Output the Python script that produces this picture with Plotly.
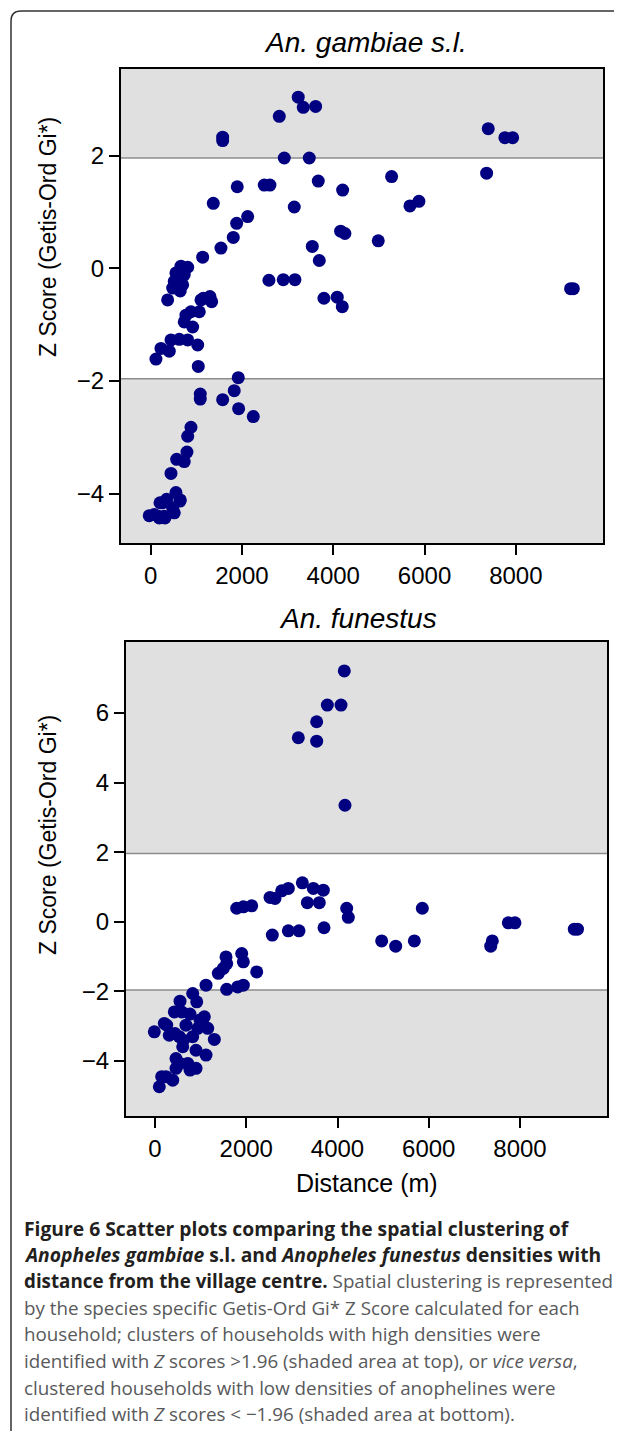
import plotly.graph_objects as go

# the page body adds an 8px margin, so the figure is drawn 8px smaller and
# every pixel position below is given in reference pixels minus that offset
OFF = 8
W, H = 622 - OFF, 1431 - OFF

# An. gambiae s.l. : distance (m) and Getis-Ord Gi* Z score
gam_dist = [3233, 3343, 3614, 2818, 1577, 1577, 7396, 7761, 7930, 2927, 3475, 7360,
            5279, 3672, 4206, 1897, 2489, 2613, 1372, 3146, 5680, 5877, 2125, 1884,
            1810, 1540, 1139, 4162, 4256, 4986, 3541, 3694, 9200, 9260, 2591, 2905,
            3161, 3796, 4088, 4198,
            664, 811, 554, 736, 517, 701, 482, 648, 372, 1153, 1299, 1336, 1102,
            883, 773, 1065, 736, 920,
            445, 627, 811, 1030, 226, 407, 116, 1043,
            1919, 1831, 1087, 1087, 1577, 1927, 2248, 883, 811, 795, 570, 736, 445,
            554, 648, 263, 482, 79, 298, 517, 188, -31, 204, 350, 642, 313, 167]
gam_z = [3.04, 2.86, 2.875, 2.70, 2.33, 2.27, 2.48, 2.32, 2.32, 1.96, 1.96, 1.69,
         1.63, 1.55, 1.39, 1.45, 1.48, 1.48, 1.155, 1.09, 1.11, 1.19, 0.92, 0.80,
         0.55, 0.36, 0.20, 0.66, 0.62, 0.49, 0.39, 0.14, -0.36, -0.36, -0.21, -0.20,
         -0.20, -0.53, -0.51, -0.68,
         0.04, 0.02, -0.08, -0.11, -0.23, -0.29, -0.35, -0.40, -0.56, -0.53, -0.50, -0.59, -0.56,
         -0.77, -0.83, -0.77, -0.95, -1.04,
         -1.27, -1.26, -1.27, -1.36, -1.42, -1.47, -1.61, -1.74,
         -1.94, -2.17, -2.23, -2.32, -2.33, -2.49, -2.63, -2.82, -2.98, -3.26, -3.39, -3.43, -3.64,
         -3.98, -4.11, -4.16, -4.25, -4.37, -4.40, -4.34, -4.43, -4.39, -4.16, -4.10, -4.13, -4.43, -4.40]

# An. funestus
fun_dist = [4149, 3777, 4077, 3543, 3141, 3543, 4164,
            3229, 3470, 3689, 2777, 2922, 2521, 2630, 1790, 1936, 2119, 3339, 3601,
            4201, 4237, 5859, 7744, 7890, 9190, 9260, 2571, 2922, 3156, 3704, 4968,
            5275, 5684, 7393, 7358,
            1556, 1571, 1900, 1936, 2229, 1388, 1497, 1118, 1571, 1812, 1936, 826,
            914, 548, 767,
            423, 1081, 204, -15, 679, 936, 1155, 313, 533, 826, 1300, 607, 899, 460,
            1118, 717, 899, 460, 241, 388, 94, 256, 585, 986, 620, 438, 548, 767, 146]
fun_z = [7.21, 6.23, 6.23, 5.75, 5.29, 5.19, 3.35,
         1.12, 0.96, 0.91, 0.89, 0.96, 0.70, 0.67, 0.39, 0.43, 0.46, 0.55, 0.55,
         0.39, 0.13, 0.39, -0.03, -0.03, -0.21, -0.21, -0.38, -0.26, -0.26, -0.17, -0.55,
         -0.70, -0.55, -0.55, -0.70,
         -1.01, -1.20, -0.91, -1.15, -1.44, -1.48, -1.34, -1.82, -1.94, -1.87, -1.82, -2.06,
         -2.30, -2.28, -2.65,
         -2.59, -2.73, -2.92, -3.16, -2.97, -3.06, -3.06, -3.26, -3.30, -3.30, -3.38, -3.59, -3.69, -3.93,
         -3.83, -4.07, -4.21, -4.21, -4.45, -4.55, -4.74, -2.97, -2.59, -2.82, -3.40, -3.21, -4.07, -4.26, -4.45]

x_ticks = [0, 2000, 4000, 6000, 8000]
threshold = 1.96

grey = "<span style='color:#58595b'>%s</span>"
caption = [
    "<b>Figure 6 Scatter plots comparing the spatial clustering of</b>",
    "<b><i>Anopheles gambiae</i> s.l. and <i>Anopheles funestus</i> densities with</b>",
    "<b>distance from the village centre.</b> " + grey % "Spatial clustering is represented",
    grey % "by the species specific Getis-Ord Gi* Z Score calculated for each",
    grey % "household; clusters of households with high densities were",
    grey % "identified with <i>Z</i> scores &gt;1.96 (shaded area at top), or <i>vice versa</i>,",
    grey % "clustered households with low densities of anophelines were",
    grey % "identified with <i>Z</i> scores &lt; \u22121.96 (shaded area at bottom).",
]


def px_x(p):
    return (p - OFF) / W


def px_y(p):
    return 1 - (p - OFF) / H


fig = go.Figure()
fig.add_trace(go.Scatter(x=gam_dist, y=gam_z, mode="markers", xaxis="x", yaxis="y",
                         marker=dict(size=13, color="#000080"), showlegend=False))
fig.add_trace(go.Scatter(x=fun_dist, y=fun_z, mode="markers", xaxis="x2", yaxis="y2",
                         marker=dict(size=13, color="#000080"), showlegend=False))

axfont = dict(family="Liberation Sans, Arial", size=24, color="black")
common = dict(showline=True, mirror=True, linecolor="black", linewidth=2, ticks="outside",
              ticklen=10, tickwidth=1.5, tickcolor="black", showgrid=False, zeroline=False,
              tickfont=axfont)

fig.update_layout(
    width=W, height=H, margin=dict(l=0, r=0, t=0, b=0),
    paper_bgcolor="white", plot_bgcolor="white",
    xaxis=dict(domain=[px_x(121), px_x(603)], range=[-650, 9910], tickvals=x_ticks, anchor="y", **common),
    yaxis=dict(domain=[px_y(543), px_y(69)], range=[-4.875, 3.54], tickvals=[-4, -2, 0, 2], anchor="x", **common),
    xaxis2=dict(domain=[px_x(126), px_x(607)], range=[-636, 9907], tickvals=x_ticks, anchor="y2", **common),
    yaxis2=dict(domain=[px_y(1116), px_y(641.7)], range=[-5.58, 8.05], tickvals=[-4, -2, 0, 2, 4, 6], anchor="x2", **common),
)

# shaded significance bands and threshold lines
for xr, yr, lo, hi in [("x", "y", -4.875, 3.54), ("x2", "y2", -5.58, 8.05)]:
    fig.add_shape(type="rect", xref=xr + " domain", yref=yr, x0=0, x1=1, y0=threshold, y1=hi,
                  fillcolor="#e0e0e0", line_width=0, layer="below")
    fig.add_shape(type="rect", xref=xr + " domain", yref=yr, x0=0, x1=1, y0=lo, y1=-threshold,
                  fillcolor="#e0e0e0", line_width=0, layer="below")
    for v in (threshold, -threshold):
        fig.add_shape(type="line", xref=xr + " domain", yref=yr, x0=0, x1=1, y0=v, y1=v,
                      line=dict(color="#8c8c8c", width=1.5), layer="below")

# outer frame with rounded corner
fig.add_shape(type="path", xref="paper", yref="paper",
              path="M %f,%f L %f,%f Q %f,%f %f,%f L %f,%f" % (
                  px_x(11), px_y(1440), px_x(11), px_y(21), px_x(11), px_y(11),
                  px_x(21), px_y(11), px_x(640), px_y(11)),
              line=dict(color="#333333", width=1.5))


def label(x, y, text, font, **kw):
    fig.add_annotation(x=px_x(x), y=px_y(y), xref="paper", yref="paper", text=text,
                       showarrow=False, font=font, xanchor=kw.pop("xanchor", "center"),
                       yanchor="middle", **kw)


tfont = dict(family="Liberation Sans, Arial", size=28, color="black")
label(365, 43, "<i>An. gambiae s.l.</i>", tfont)
label(358, 618, "<i>An. funestus</i>", tfont)
lfont = dict(family="Liberation Sans, Arial", size=23, color="black")
for yc in (237, 835):
    label(48, yc, "Z Score (Getis-Ord Gi*)", lfont, textangle=-90)
label(367, 1183, "Distance (m)", dict(family="Liberation Sans, Arial", size=25, color="black"))

for i, line in enumerate(caption):
    size = 19.3 if i < 2 else 18.8
    label(22, 1228 + i * 26.6, line, dict(family="Open Sans", size=size, color="#231f20"),
          xanchor="left")

fig.write_html("out.html")
